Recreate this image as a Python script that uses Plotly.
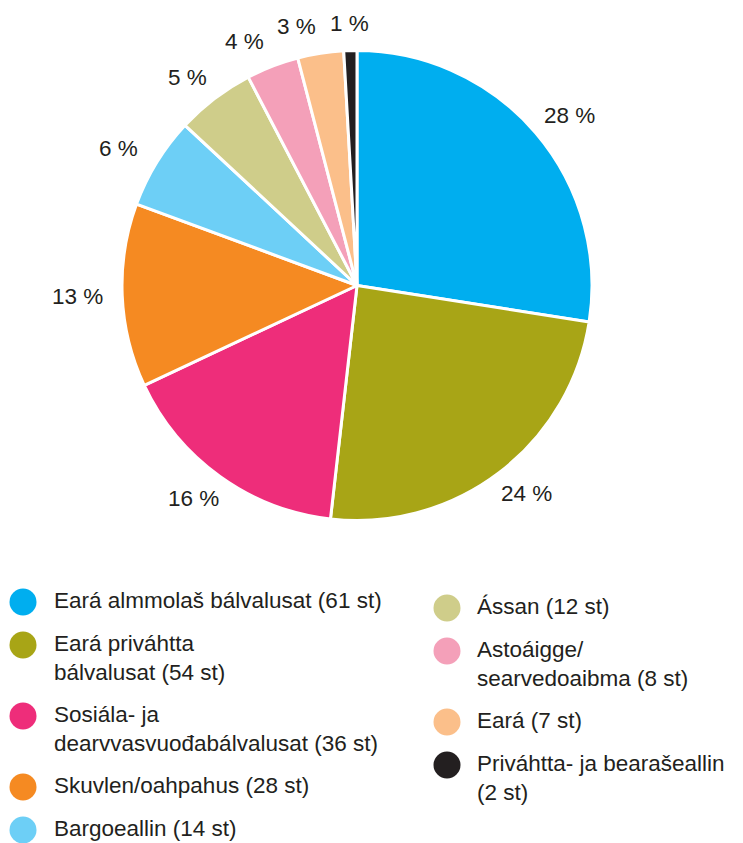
import math
import plotly.graph_objects as go

# ---- data ----
categories = [
    "Eará almmolaš bálvalusat",
    "Eará priváhtta bálvalusat",
    "Sosiála- ja dearvvasvuođabálvalusat",
    "Skuvlen/oahpahus",
    "Bargoeallin",
    "Ássan",
    "Astoáigge/searvedoaibma",
    "Eará",
    "Priváhtta- ja bearašeallin",
]
counts = [61, 54, 36, 28, 14, 12, 8, 7, 2]
legend_texts = [
    "Eará almmolaš bálvalusat (61 st)",
    "Eará priváhtta<br>bálvalusat (54 st)",
    "Sosiála- ja<br>dearvvasvuođabálvalusat (36 st)",
    "Skuvlen/oahpahus (28 st)",
    "Bargoeallin (14 st)",
    "Ássan (12 st)",
    "Astoáigge/<br>searvedoaibma (8 st)",
    "Eará (7 st)",
    "Priváhtta- ja bearašeallin<br>(2 st)",
]
colors = ["#00AEEF", "#A8A516", "#EE2D7A", "#F58A22", "#6DCFF6",
          "#CFCD8A", "#F4A0B9", "#FBBF8A", "#231F20"]

# ---- layout constants ----
OFF = 8                      # page body margin
W, H = 743 - OFF, 843 - OFF
CX, CY, R = 357, 285.5, 235
FONT = "Liberation Sans, Arial, Helvetica, sans-serif"
TXT = "#231F20"
FS = 22.5


def px(x):
    return (x - OFF) / W


def py(y):
    return 1 - (y - OFF) / H


# percentages with largest-remainder rounding
total = sum(counts)
raw = [c * 100 / total for c in counts]
fl = [math.floor(v) for v in raw]
rem = 100 - sum(fl)
order = sorted(range(len(raw)), key=lambda i: raw[i] - fl[i], reverse=True)
pcts = fl[:]
for i in order[:rem]:
    pcts[i] += 1

fig = go.Figure()
fig.add_trace(go.Pie(
    labels=categories,
    values=counts,
    sort=False,
    direction="clockwise",
    rotation=0,
    marker=dict(colors=colors, line=dict(color="white", width=3)),
    textinfo="none",
    hoverinfo="label+value+percent",
    showlegend=False,
    domain=dict(x=[px(CX - R), px(CX + R)], y=[py(CY + R), py(CY - R)]),
))

annotations = []
shapes = []

# slice labels, placed along each slice's mid-angle on an elliptical ring
LRX, LRY = 280, 262
cum = 0
pos = []
for c, p in zip(counts, pcts):
    mid = (cum + c / 2) / total * 2 * math.pi
    cum += c
    pos.append([CX + LRX * math.sin(mid), CY - LRY * math.cos(mid), f"{p} %"])

# simple collision avoidance: walk from the last slice backwards (top-left),
# pushing labels left when their boxes would overlap
GAP = 15
for i in range(len(pos) - 2, -1, -1):
    x, y, t = pos[i]
    xn, yn, tn = pos[i + 1]
    w, wn = 0.55 * FS * len(t), 0.55 * FS * len(tn)
    if x <= CX and abs(y - yn) < FS * 1.25:
        pos[i][0] = min(x, xn - (w + wn) / 2 - GAP)

for x, y, t in pos:
    annotations.append(dict(
        x=px(x), y=py(y), xref="paper", yref="paper",
        text=t, showarrow=False, xanchor="center", yanchor="middle",
        font=dict(family=FONT, size=FS, color=TXT),
    ))

# custom two-column legend
cols = [
    dict(items=range(0, 5), cx=23, tx=53, y0=602),
    dict(items=range(5, 9), cx=447, tx=476, y0=608),
]
LH = 28
for col in cols:
    y = col["y0"]
    for i in col["items"]:
        lines = legend_texts[i].count("<br>") + 1
        r = 13.5
        shapes.append(dict(
            type="circle", xref="paper", yref="paper",
            x0=px(col["cx"] - r), x1=px(col["cx"] + r),
            y0=py(y + r), y1=py(y - r),
            fillcolor=colors[i], line=dict(width=0),
        ))
        annotations.append(dict(
            x=px(col["tx"]), y=py(y - 0.65 * FS), xref="paper", yref="paper",
            text=legend_texts[i], showarrow=False, xanchor="left", yanchor="top",
            align="left", font=dict(family=FONT, size=FS, color=TXT),
            borderpad=0,
        ))
        y += 43 + LH * (lines - 1)

fig.update_layout(
    width=W, height=H,
    margin=dict(l=0, r=0, t=0, b=0),
    paper_bgcolor="white", plot_bgcolor="white",
    annotations=annotations, shapes=shapes,
    showlegend=False,
)

fig.write_html("out.html")
